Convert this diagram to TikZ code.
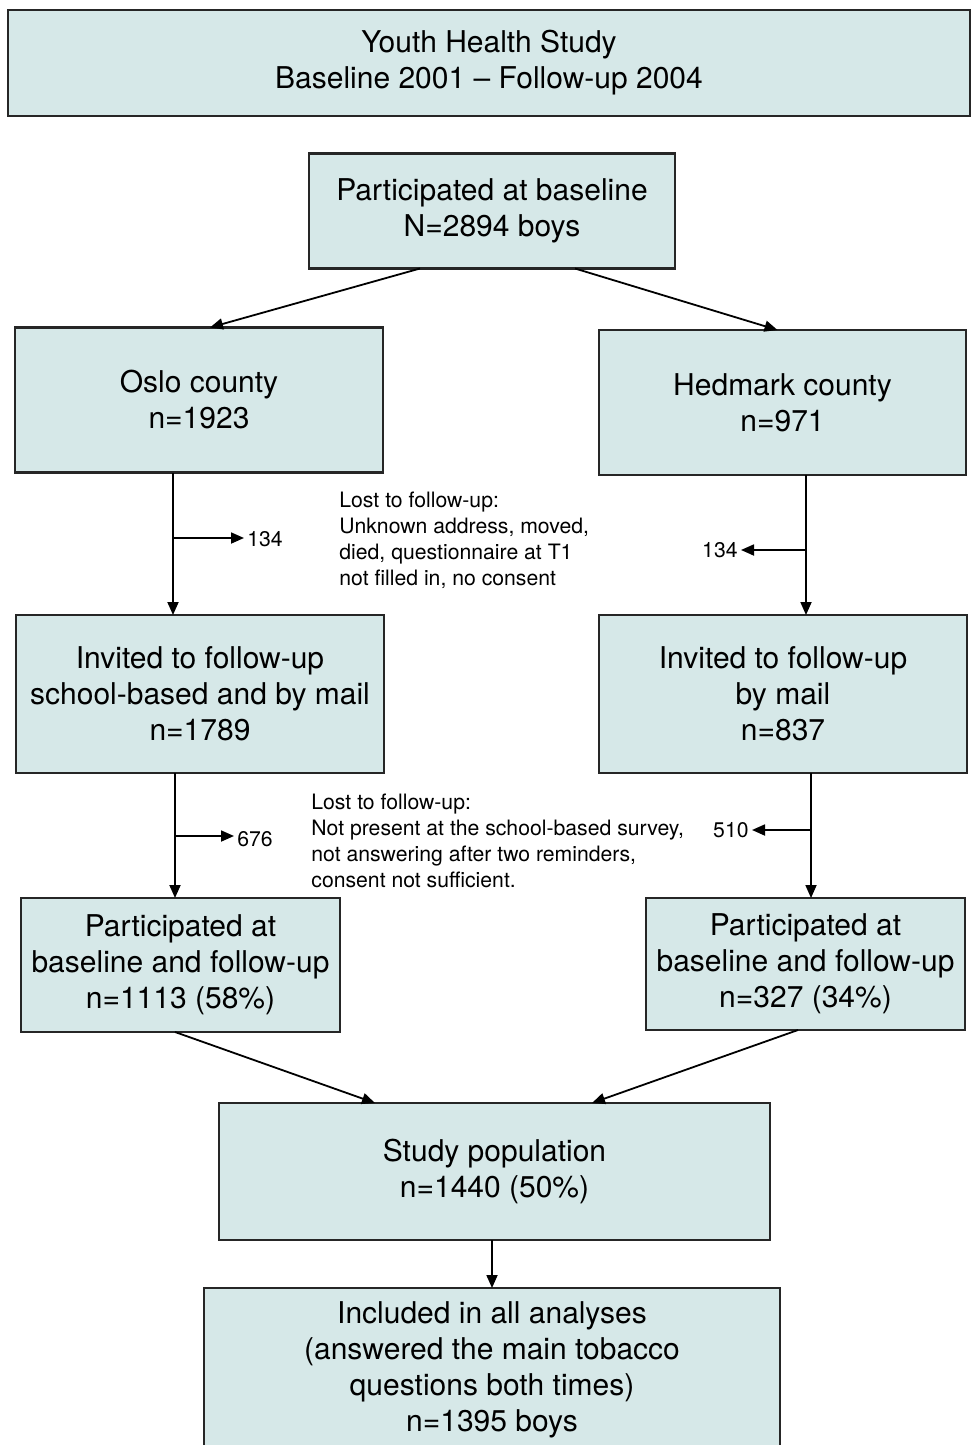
\documentclass[tikz,border=0pt]{standalone}
\usepackage{fontspec}
\setmainfont{TeX Gyre Heros}
\usetikzlibrary{arrows.meta}
\definecolor{boxfill}{RGB}{214,232,232}
\begin{document}
\begin{tikzpicture}[x=0.5pt,y=-0.5pt,
  box/.style={draw=black!85, line width=1.1pt, fill=boxfill, inner sep=0pt, outer sep=0pt,
    align=center, font=\fontsize{15}{18}\selectfont},
  note/.style={inner sep=1.5pt, align=left, font=\fontsize{10.6}{13}\selectfont},
  arr/.style={line width=0.9pt, -{Triangle[length=6.5pt,width=5.5pt]}}]
% page size of the reference
\clip (0,0) rectangle (972,1445);
\fill[white] (0,0) rectangle (972,1445);

% Draw the boxes
\node[box, minimum width=481pt, minimum height=53pt] (title) at (489,63) {Youth Health Study\\Baseline 2001 -- Follow-up 2004};
\node[box, minimum width=183pt, minimum height=57.5pt] (base) at (492,211) {Participated at baseline\\N=2894 boys};
\node[box, minimum width=184pt, minimum height=72.5pt] (oslo) at (199,400) {Oslo county\\n=1923};
\node[box, minimum width=183.5pt, minimum height=72.5pt] (hed) at (782.5,402.5) {Hedmark county\\n=971};
\node[box, minimum width=184pt, minimum height=79pt] (invo) at (200,694) {Invited to follow-up\\school-based and by mail\\n=1789};
\node[box, minimum width=184pt, minimum height=79pt] (invh) at (783,694) {Invited to follow-up\\by mail\\n=837};
\node[box, minimum width=159.5pt, minimum height=67pt] (parto) at (180.5,965) {Participated at\\baseline and follow-up\\n=1113 (58\%)};
\node[box, minimum width=159.5pt, minimum height=66pt] (parth) at (805.5,964) {Participated at\\baseline and follow-up\\n=327 (34\%)};
\node[box, minimum width=275.5pt, minimum height=68.5pt] (study) at (494.5,1171.5) {Study population\\n=1440 (50\%)};
\node[box, minimum width=288pt, minimum height=82pt] (incl) at (492,1370) {Included in all analyses\\(answered the main tobacco\\questions both times)\\n=1395 boys};

% Lost to follow-up notes
\node[note, anchor=west] (lost1) at (336,540) {Lost to follow-up:\\Unknown address, moved,\\died, questionnaire at T1\\not filled in, no consent};
\node[note, anchor=west] (lost2) at (308,841) {Lost to follow-up:\\Not present at the school-based survey,\\not answering after two reminders,\\consent not sufficient.};
\node[note, anchor=west] (lo1) at (244,539) {134};
\node[note, anchor=east] (lh1) at (741,550) {134};
\node[note, anchor=west] (lo2) at (234,839) {676};
\node[note, anchor=east] (lh2) at (752,830) {510};

% branch points
\coordinate (bo1) at (173,538);
\coordinate (bh1) at (806,550);
\coordinate (bo2) at (175,836);
\coordinate (bh2) at (811,830);

% Arrows
\draw[arr] ([xshift=-36pt]base.south) -- ([xshift=5.5pt]oslo.north);
\draw[arr] ([xshift=41.5pt]base.south) -- ([xshift=-2.5pt]hed.north);
\draw[arr] (oslo.south -| bo1) -- (invo.north -| bo1);
\draw[arr] (bo1) -- (bo1 -| lo1.west);
\draw[arr] (hed.south -| bh1) -- (invh.north -| bh1);
\draw[arr] (bh1) -- (bh1 -| lh1.east);
\draw[arr] (invo.south -| bo2) -- (parto.north -| bo2);
\draw[arr] (bo2) -- (bo2 -| lo2.west);
\draw[arr] (invh.south -| bh2) -- (parth.north -| bh2);
\draw[arr] (bh2) -- (bh2 -| lh2.east);
\draw[arr] ([xshift=-2.75pt]parto.south) -- ([xshift=-59.75pt]study.north);
\draw[arr] ([xshift=-3.75pt]parth.south) -- ([xshift=48.75pt]study.north);
\draw[arr] (study.south -| incl.north) -- (incl.north);
\end{tikzpicture}
\end{document}
